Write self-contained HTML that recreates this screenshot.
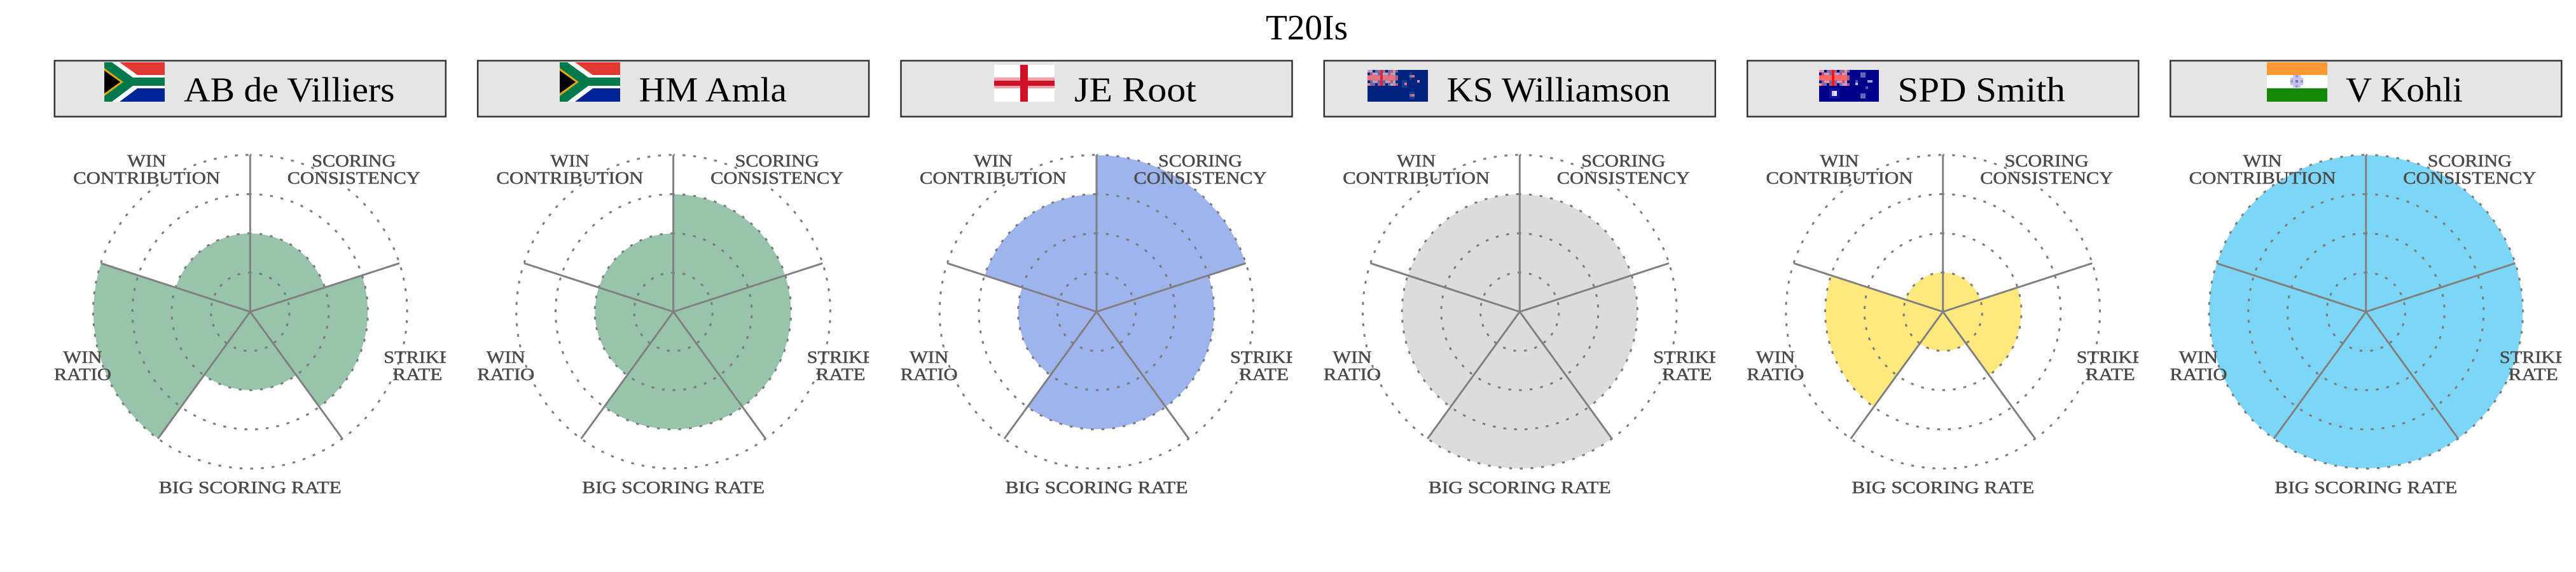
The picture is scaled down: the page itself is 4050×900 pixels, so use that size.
<!DOCTYPE html>
<html><head><meta charset="utf-8"><style>
html,body{margin:0;padding:0;background:#fff;width:4050px;height:900px;overflow:hidden}
svg{display:block}
text{font-family:"Liberation Serif",serif}
.l{font-size:27px;fill:#4a4a4a;text-anchor:middle;stroke:#4a4a4a;stroke-width:.5}
.n{font-size:55px;fill:#000}
.h{fill:#e5e5e5;stroke:#333;stroke-width:2.5}
.r{fill:none;stroke:#7c7c7c;stroke-width:3;stroke-dasharray:4.5 12.3;stroke-dashoffset:2.25}
.s{stroke:#808080;stroke-width:3;fill:none}
.uP{fill:var(--p)}.uL{fill:var(--l)}.uM{fill:var(--m)}.uR{fill:var(--r)}.uS{fill:var(--s)}.uC{fill:var(--c)}
</style></head><body>
<svg width="4050" height="900" viewBox="0 0 4050 900" xmlns="http://www.w3.org/2000/svg">
<defs>
<path id="w1" d="M0 0V-61.6A61.6 61.6 0 0 1 58.59 -19.04Z"/>
<path id="w2" d="M0 0V-123.2A123.2 123.2 0 0 1 117.17 -38.07Z"/>
<path id="w3" d="M0 0V-184.8A184.8 184.8 0 0 1 175.76 -57.11Z"/>
<path id="w4" d="M0 0V-246.4A246.4 246.4 0 0 1 234.34 -76.14Z"/>
<g id="grid">
<g transform="rotate(-90)">
<circle class="r" r="61.7"/><circle class="r" r="123.4"/><circle class="r" r="185.1"/><circle class="r" r="246.8"/>
</g>
<path class="s" d="M0 0V-246.8M0 0L234.7 -76.3M0 0L145 199.7M0 0L-145 199.7M0 0L-234.7 -76.3"/>
</g>
<clipPath id="cp"><rect x="-307.5" y="-490" width="615" height="900"/></clipPath>
<g id="sa">
<rect width="95" height="20" fill="#e23a33"/>
<rect y="41" width="95" height="21" fill="#002395"/>
<rect y="20" width="95" height="21" fill="#fff"/>
<polygon points="12,0 24,0 52,20 52,41 24,62 12,62" fill="#fff"/>
<polygon points="0,0 12,0 45,24 95,24 95,37 45,37 12,62 0,62" fill="#007a4d"/>
<polygon points="0,9 30,31 0,53" fill="#e0a812"/>
<polygon points="0,13 25,31 0,49" fill="#000"/>
</g>
<g id="uj">
<path class="uP" d="M0 0h4v4h-4zM40 0h4v4h-4zM8 4h4v4h-4zM36 4h4v4h-4zM12 16h4v4h-4zM32 16h4v4h-4zM0 20h4v4h-4zM40 20h4v4h-4z"/>
<path class="uL" d="M4 0h4v4h-4zM12 4h4v4h-4zM24 4h8v4h-8zM40 4h4v4h-4zM8 16h4v4h-4zM28 16h4v4h-4zM40 16h4v4h-4zM36 20h4v4h-4z"/>
<path class="uM" d="M12 0h4v4h-4zM32 0h4v4h-4zM44 0h4v4h-4zM16 4h4v4h-4zM4 16h4v4h-4zM16 16h4v4h-4zM24 16h4v4h-4zM8 20h4v4h-4zM32 20h4v4h-4z"/>
<path class="uR" d="M16 0h4v4h-4zM24 0h4v4h-4zM36 0h4v4h-4zM4 4h4v4h-4zM32 4h4v4h-4zM44 8h4v8h-4zM36 16h4v4h-4zM4 20h4v4h-4zM16 20h4v4h-4zM24 20h4v4h-4zM44 20h4v4h-4z"/>
<path class="uS" d="M0 8h20v8h-20zM24 8h20v8h-20z"/>
<path class="uC" d="M20 0h4v24h-4z"/>
</g>
</defs>

<text x="1990" y="62" font-size="56" fill="#000" textLength="129" lengthAdjust="spacingAndGlyphs">T20Is</text>

<!-- Chart 1 -->
<g transform="translate(393.3 490.5)">
<rect class="h" x="-307.5" y="-395" width="615" height="88"/>
<g clip-path="url(#cp)">
<g fill="#97c4ab"><use href="#w2"/><use href="#w3" transform="rotate(72)"/><use href="#w2" transform="rotate(144)"/><use href="#w4" transform="rotate(216)"/><use href="#w2" transform="rotate(288)"/></g>
<use href="#grid"/>
<text class="l" x="-162.7" y="-228.5" textLength="61" lengthAdjust="spacingAndGlyphs">WIN</text>
<text class="l" x="-162.7" y="-201.5" textLength="231" lengthAdjust="spacingAndGlyphs">CONTRIBUTION</text>
<text class="l" x="163" y="-228.5" textLength="132" lengthAdjust="spacingAndGlyphs">SCORING</text>
<text class="l" x="163" y="-201.5" textLength="209" lengthAdjust="spacingAndGlyphs">CONSISTENCY</text>
<text class="l" x="263" y="80.5" textLength="106" lengthAdjust="spacingAndGlyphs">STRIKE</text>
<text class="l" x="263" y="107.5" textLength="78" lengthAdjust="spacingAndGlyphs">RATE</text>
<text class="l" x="-263.4" y="80.5" textLength="61" lengthAdjust="spacingAndGlyphs">WIN</text>
<text class="l" x="-263.4" y="107.5" textLength="90" lengthAdjust="spacingAndGlyphs">RATIO</text>
<text class="l" x="0" y="285.5" textLength="287" lengthAdjust="spacingAndGlyphs">BIG SCORING RATE</text>
</g></g>
<use href="#sa" x="164" y="98"/>
<text class="n" x="289" y="159.5" textLength="331.5" lengthAdjust="spacingAndGlyphs">AB de Villiers</text>

<!-- Chart 2 -->
<g transform="translate(1058.6 490.5)">
<rect class="h" x="-307.5" y="-395" width="615" height="88"/>
<g clip-path="url(#cp)">
<g fill="#97c4ab"><use href="#w3"/><use href="#w3" transform="rotate(72)"/><use href="#w3" transform="rotate(144)"/><use href="#w2" transform="rotate(216)"/><use href="#w2" transform="rotate(288)"/></g>
<use href="#grid"/>
<text class="l" x="-162.7" y="-228.5" textLength="61" lengthAdjust="spacingAndGlyphs">WIN</text>
<text class="l" x="-162.7" y="-201.5" textLength="231" lengthAdjust="spacingAndGlyphs">CONTRIBUTION</text>
<text class="l" x="163" y="-228.5" textLength="132" lengthAdjust="spacingAndGlyphs">SCORING</text>
<text class="l" x="163" y="-201.5" textLength="209" lengthAdjust="spacingAndGlyphs">CONSISTENCY</text>
<text class="l" x="263" y="80.5" textLength="106" lengthAdjust="spacingAndGlyphs">STRIKE</text>
<text class="l" x="263" y="107.5" textLength="78" lengthAdjust="spacingAndGlyphs">RATE</text>
<text class="l" x="-263.4" y="80.5" textLength="61" lengthAdjust="spacingAndGlyphs">WIN</text>
<text class="l" x="-263.4" y="107.5" textLength="90" lengthAdjust="spacingAndGlyphs">RATIO</text>
<text class="l" x="0" y="285.5" textLength="287" lengthAdjust="spacingAndGlyphs">BIG SCORING RATE</text>
</g></g>
<use href="#sa" x="880" y="98"/>
<text class="n" x="1004.5" y="159.5" textLength="232.5" lengthAdjust="spacingAndGlyphs">HM Amla</text>

<!-- Chart 3 -->
<g transform="translate(1724 490.5)">
<rect class="h" x="-307.5" y="-395" width="615" height="88"/>
<g clip-path="url(#cp)">
<g fill="#9fb3ec"><use href="#w4"/><use href="#w3" transform="rotate(72)"/><use href="#w3" transform="rotate(144)"/><use href="#w2" transform="rotate(216)"/><use href="#w3" transform="rotate(288)"/></g>
<use href="#grid"/>
<text class="l" x="-162.7" y="-228.5" textLength="61" lengthAdjust="spacingAndGlyphs">WIN</text>
<text class="l" x="-162.7" y="-201.5" textLength="231" lengthAdjust="spacingAndGlyphs">CONTRIBUTION</text>
<text class="l" x="163" y="-228.5" textLength="132" lengthAdjust="spacingAndGlyphs">SCORING</text>
<text class="l" x="163" y="-201.5" textLength="209" lengthAdjust="spacingAndGlyphs">CONSISTENCY</text>
<text class="l" x="263" y="80.5" textLength="106" lengthAdjust="spacingAndGlyphs">STRIKE</text>
<text class="l" x="263" y="107.5" textLength="78" lengthAdjust="spacingAndGlyphs">RATE</text>
<text class="l" x="-263.4" y="80.5" textLength="61" lengthAdjust="spacingAndGlyphs">WIN</text>
<text class="l" x="-263.4" y="107.5" textLength="90" lengthAdjust="spacingAndGlyphs">RATIO</text>
<text class="l" x="0" y="285.5" textLength="287" lengthAdjust="spacingAndGlyphs">BIG SCORING RATE</text>
</g></g>
<g transform="translate(1563 102)">
<rect width="95" height="58" fill="#fff"/>
<rect y="20" width="95" height="17" fill="#f0a2ac"/>
<rect x="41" width="12" height="58" fill="#ce1126"/>
<rect y="25" width="95" height="8" fill="#ce1126"/>
</g>
<text class="n" x="1689" y="159.5" textLength="192" lengthAdjust="spacingAndGlyphs">JE Root</text>

<!-- Chart 4 -->
<g transform="translate(2389.3 490.5)">
<rect class="h" x="-307.5" y="-395" width="615" height="88"/>
<g clip-path="url(#cp)">
<g fill="#dcdcdc"><use href="#w3"/><use href="#w3" transform="rotate(72)"/><use href="#w4" transform="rotate(144)"/><use href="#w3" transform="rotate(216)"/><use href="#w3" transform="rotate(288)"/></g>
<use href="#grid"/>
<text class="l" x="-162.7" y="-228.5" textLength="61" lengthAdjust="spacingAndGlyphs">WIN</text>
<text class="l" x="-162.7" y="-201.5" textLength="231" lengthAdjust="spacingAndGlyphs">CONTRIBUTION</text>
<text class="l" x="163" y="-228.5" textLength="132" lengthAdjust="spacingAndGlyphs">SCORING</text>
<text class="l" x="163" y="-201.5" textLength="209" lengthAdjust="spacingAndGlyphs">CONSISTENCY</text>
<text class="l" x="263" y="80.5" textLength="106" lengthAdjust="spacingAndGlyphs">STRIKE</text>
<text class="l" x="263" y="107.5" textLength="78" lengthAdjust="spacingAndGlyphs">RATE</text>
<text class="l" x="-263.4" y="80.5" textLength="61" lengthAdjust="spacingAndGlyphs">WIN</text>
<text class="l" x="-263.4" y="107.5" textLength="90" lengthAdjust="spacingAndGlyphs">RATIO</text>
<text class="l" x="0" y="285.5" textLength="287" lengthAdjust="spacingAndGlyphs">BIG SCORING RATE</text>
</g></g>
<g transform="translate(2150 110)" style="--p:#e08aa0;--l:#a8a8cc;--m:#5a6aa8;--r:#a85f85;--s:#e37280;--c:#cf2a42">
<rect width="95" height="50" fill="#00247d"/>
<use href="#uj" transform="scale(1 1.04)"/>
<rect x="66" y="4" width="4" height="12" fill="#1a3a8a"/><rect x="70" y="8" width="4" height="4" fill="#e37280"/><rect x="66" y="8" width="4" height="4" fill="#6a78b0"/>
<rect x="54" y="16" width="8" height="12" fill="#1a3a8a"/><rect x="58" y="20" width="4" height="4" fill="#e37280"/>
<rect x="78" y="16" width="4" height="4" fill="#e08aa0"/>
<rect x="66" y="34" width="8" height="12" fill="#1a3a8a"/><rect x="70" y="38" width="4" height="4" fill="#e37280"/><rect x="66" y="38" width="4" height="4" fill="#6a78b0"/>
</g>
<text class="n" x="2274.5" y="159.5" textLength="351.5" lengthAdjust="spacingAndGlyphs">KS Williamson</text>

<!-- Chart 5 -->
<g transform="translate(3054.7 490.5)">
<rect class="h" x="-307.5" y="-395" width="615" height="88"/>
<g clip-path="url(#cp)">
<g fill="#ffe97f"><use href="#w1"/><use href="#w2" transform="rotate(72)"/><use href="#w1" transform="rotate(144)"/><use href="#w3" transform="rotate(216)"/><use href="#w1" transform="rotate(288)"/></g>
<use href="#grid"/>
<text class="l" x="-162.7" y="-228.5" textLength="61" lengthAdjust="spacingAndGlyphs">WIN</text>
<text class="l" x="-162.7" y="-201.5" textLength="231" lengthAdjust="spacingAndGlyphs">CONTRIBUTION</text>
<text class="l" x="163" y="-228.5" textLength="132" lengthAdjust="spacingAndGlyphs">SCORING</text>
<text class="l" x="163" y="-201.5" textLength="209" lengthAdjust="spacingAndGlyphs">CONSISTENCY</text>
<text class="l" x="263" y="80.5" textLength="106" lengthAdjust="spacingAndGlyphs">STRIKE</text>
<text class="l" x="263" y="107.5" textLength="78" lengthAdjust="spacingAndGlyphs">RATE</text>
<text class="l" x="-263.4" y="80.5" textLength="61" lengthAdjust="spacingAndGlyphs">WIN</text>
<text class="l" x="-263.4" y="107.5" textLength="90" lengthAdjust="spacingAndGlyphs">RATIO</text>
<text class="l" x="0" y="285.5" textLength="287" lengthAdjust="spacingAndGlyphs">BIG SCORING RATE</text>
</g></g>
<g transform="translate(2860 110)" style="--p:#f78f9b;--l:#b7a0c8;--m:#7070b0;--r:#b3597f;--s:#ff6464;--c:#ff1414">
<rect width="94" height="50" fill="#00008b"/>
<use href="#uj" transform="scale(1 1.04)"/>
<rect x="16" y="29" width="16" height="16" fill="#14149a"/><rect x="20" y="33" width="8" height="8" fill="#c8c8ee"/><rect x="24" y="33" width="4" height="8" fill="#e6e6fa"/>
<rect x="65" y="4" width="8" height="8" fill="#6464b8"/>
<rect x="76" y="16" width="8" height="4" fill="#a0a0d8"/>
<rect x="57" y="20" width="4" height="4" fill="#b8b8e8"/><rect x="57" y="16" width="4" height="4" fill="#5050b0"/>
<rect x="73" y="26" width="4" height="4" fill="#5858b4"/>
<rect x="65" y="37" width="8" height="8" fill="#6464b8"/>
</g>
<text class="n" x="2983.5" y="159.5" textLength="263.5" lengthAdjust="spacingAndGlyphs">SPD Smith</text>

<!-- Chart 6 -->
<g transform="translate(3719.8 490.5)">
<rect class="h" x="-307.5" y="-395" width="615" height="88"/>
<g clip-path="url(#cp)">
<circle r="246.4" fill="#7ed6f7"/>
<use href="#grid"/>
<text class="l" x="-162.7" y="-228.5" textLength="61" lengthAdjust="spacingAndGlyphs">WIN</text>
<text class="l" x="-162.7" y="-201.5" textLength="231" lengthAdjust="spacingAndGlyphs">CONTRIBUTION</text>
<text class="l" x="163" y="-228.5" textLength="132" lengthAdjust="spacingAndGlyphs">SCORING</text>
<text class="l" x="163" y="-201.5" textLength="209" lengthAdjust="spacingAndGlyphs">CONSISTENCY</text>
<text class="l" x="263" y="80.5" textLength="106" lengthAdjust="spacingAndGlyphs">STRIKE</text>
<text class="l" x="263" y="107.5" textLength="78" lengthAdjust="spacingAndGlyphs">RATE</text>
<text class="l" x="-263.4" y="80.5" textLength="61" lengthAdjust="spacingAndGlyphs">WIN</text>
<text class="l" x="-263.4" y="107.5" textLength="90" lengthAdjust="spacingAndGlyphs">RATIO</text>
<text class="l" x="0" y="285.5" textLength="287" lengthAdjust="spacingAndGlyphs">BIG SCORING RATE</text>
</g></g>
<g transform="translate(3564 98)">
<rect width="95" height="20" fill="#ff9933"/>
<rect y="20" width="95" height="21" fill="#fff"/>
<rect y="41" width="95" height="21" fill="#138808"/>
<rect x="41" y="20" width="12" height="20" fill="#c4c4e8"/>
<rect x="37" y="24" width="20" height="12" fill="#c4c4e8"/>
<rect x="37" y="28" width="4" height="4" fill="#9a9ad8"/><rect x="53" y="28" width="4" height="4" fill="#9a9ad8"/>
<rect x="45" y="20" width="4" height="4" fill="#9a9ad8"/><rect x="45" y="36" width="4" height="4" fill="#9a9ad8"/>
<rect x="45" y="28" width="4" height="4" fill="#6e6ecc"/>
</g>
<text class="n" x="3688" y="159.5" textLength="184" lengthAdjust="spacingAndGlyphs">V Kohli</text>
</svg>
</body></html>
